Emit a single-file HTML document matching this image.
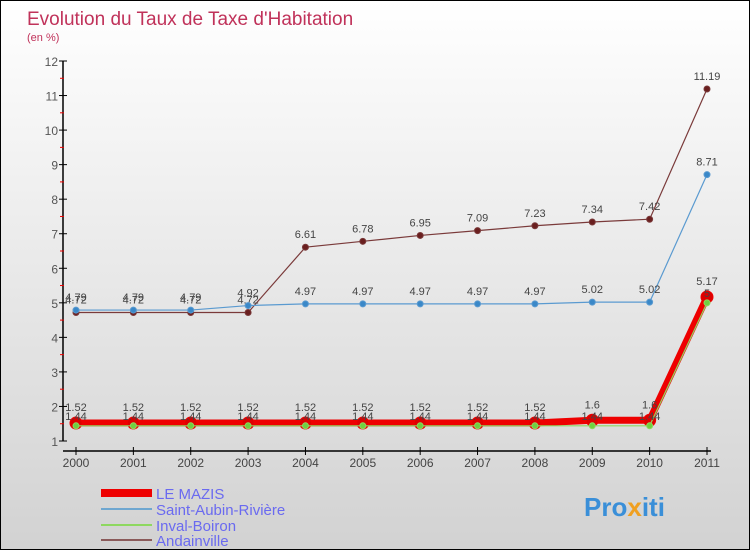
<!DOCTYPE html>
<html><head><meta charset="utf-8"><style>
body{margin:0}
#c{width:748px;height:548px;border:1px solid #000;position:relative;background:linear-gradient(#ffffff,#d2d2d2);font-family:"Liberation Sans",sans-serif;overflow:hidden}
</style></head><body>
<div id="c">
<svg id="s" width="748" height="548" xmlns="http://www.w3.org/2000/svg">
<text x="26" y="24" font-size="19" fill="#c0325a">Evolution du Taux de Taxe d'Habitation</text>
<text x="26" y="40" font-size="11" fill="#c0325a">(en %)</text>
<g id="axes"></g><g id="series"></g>
<g>
<rect x="100" y="488" width="51" height="8" fill="#e00"/>
<text x="155" y="498" font-size="15" fill="#6a6af0">LE MAZIS</text>
<rect x="100" y="507" width="51" height="2" fill="#6fa7d0"/>
<text x="155" y="514" font-size="15" fill="#6a6af0">Saint-Aubin-Rivière</text>
<rect x="100" y="523" width="51" height="2" fill="#8ed860"/>
<text x="155" y="530" font-size="15" fill="#6a6af0">Inval-Boiron</text>
<rect x="100" y="538" width="51" height="2" fill="#8a5a5a"/>
<text x="155" y="545" font-size="15" fill="#6a6af0">Andainville</text>
</g>
<text x="583" y="515" font-size="26" font-weight="bold" fill="#3a8fd8">Pro<tspan fill="#f0a020">x</tspan>iti</text>
</svg>
</div>
<script>
const years=["2000","2001","2002","2003","2004","2005","2006","2007","2008","2009","2010","2011"];
const leMazis=[1.52,1.52,1.52,1.52,1.52,1.52,1.52,1.52,1.52,1.6,1.6,5.17];
const saintAubin=[4.79,4.79,4.79,4.92,4.97,4.97,4.97,4.97,4.97,5.02,5.02,8.71];
const invalBoiron=[1.44,1.44,1.44,1.44,1.44,1.44,1.44,1.44,1.44,1.44,1.44,5];
const andainville=[4.72,4.72,4.72,4.72,6.61,6.78,6.95,7.09,7.23,7.34,7.42,11.19];
const yTicks=[1,2,3,4,5,6,7,8,9,10,11,12];
const NS="http://www.w3.org/2000/svg";
const X=i=>75+i*(631/11);
const Y=v=>440-(v-1)*(380/11);
function mk(t,a,p){const e=document.createElementNS(NS,t);for(const k in a)e.setAttribute(k,a[k]);p.appendChild(e);return e;}
const ax=document.getElementById('axes');
let l=mk('line',{x1:62,y1:Y(12),x2:62,y2:Y(1),stroke:'#000','stroke-width':1.5},ax);


l=mk('line',{x1:62,y1:450,x2:710,y2:450,stroke:'#000','stroke-width':1.5},ax);


yTicks.forEach(v=>{
 mk('line',{x1:58,x2:66,y1:Y(v),y2:Y(v),stroke:'#000'},ax);
 if(v<12)mk('line',{x1:59,x2:63,y1:Y(v+0.5),y2:Y(v+0.5),stroke:'#e00'},ax);
 const t=mk('text',{x:57,y:Y(v)+5,'font-size':12,fill:'#555','text-anchor':'end'},ax);t.textContent=v;
 
 
});
years.forEach((y,i)=>{
 mk('line',{x1:X(i),x2:X(i),y1:446,y2:454,stroke:'#000'},ax);
 const t=mk('text',{x:X(i),y:466,'font-size':12,fill:'#444','text-anchor':'middle'},ax);t.textContent=y;
 
 
});
const sg=document.getElementById('series');
function series(name,data,color,w,r,fill,labOff){
 const g=mk('g',{},sg);
 
 
 const p=mk('polyline',{points:data.map((v,i)=>X(i)+','+Y(v)).join(' '),fill:'none',stroke:color,'stroke-width':w},g);
 
 
 data.forEach((v,i)=>{
  const c=mk('circle',{cx:X(i),cy:Y(v),r:r,fill:fill,stroke:color,'stroke-width':1},g);
  
  
  const t=mk('text',{x:X(i),y:Y(v)+labOff,'font-size':11,fill:'#444','text-anchor':'middle'},g);t.textContent=v;
  
  
 });
}
series('andainville',andainville,'#7a3a3a',1.2,3,'#6a1f1f',-9);
series('saint-aubin',saintAubin,'#5a9ad0',1.2,3,'#3a88c8',-9);
series('le-mazis',leMazis,'#e00',7,6,'#d00',-12);
series('inval-boiron',invalBoiron,'#8ed860',1.2,3,'#70d040',-6);
</script>
</body></html>
